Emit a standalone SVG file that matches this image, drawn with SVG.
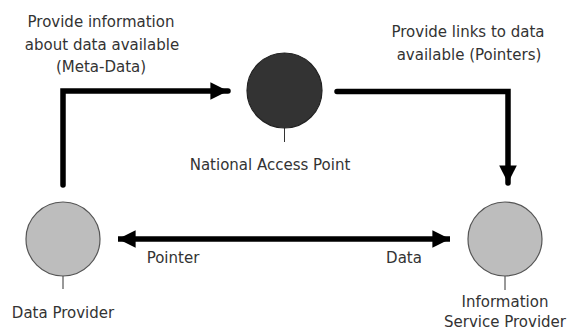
<svg xmlns="http://www.w3.org/2000/svg" width="571" height="331" viewBox="0 0 571 331">
<defs>
<style>
text{font-family:"DejaVu Sans",Verdana,sans-serif;font-size:15px;fill:#333;text-anchor:middle}
.conn{fill:none;stroke:#000;stroke-width:5.5;stroke-linejoin:miter}
.stem{stroke:#333;stroke-width:1}
.light{fill:#bdbdbd;stroke:#555;stroke-width:1.2}
.dark{fill:#333;stroke:#222;stroke-width:1.2}
</style>
<marker id="ah" viewBox="0 0 10 10" refX="10" refY="5" markerWidth="3.6" markerHeight="3.2" markerUnits="strokeWidth" orient="auto-start-reverse">
<path d="M0,0 L10,5 L0,10 z" fill="#000"/>
</marker>
</defs>
<rect width="571" height="331" fill="#fff"/>
<g id="connectors">
<path class="conn" d="M63,185 V91 H228" marker-end="url(#ah)" stroke-linecap="round"/>
<path class="conn" d="M337,91.5 H508 V183" marker-end="url(#ah)" stroke-linecap="round"/>
<path class="conn" d="M118,239 H450" marker-start="url(#ah)" marker-end="url(#ah)"/>
<text x="101" y="27">Provide information</text>
<text x="102" y="50">about data available</text>
<text x="101" y="72">(Meta-Data)</text>
<text x="468" y="37">Provide links to data</text>
<text x="469" y="60">available (Pointers)</text>
<text x="173" y="263">Pointer</text>
<text x="404" y="263">Data</text>
</g>
<g id="nap">
<line class="stem" x1="284.5" y1="128" x2="284.5" y2="142"/>
<circle class="dark" cx="284.5" cy="90.5" r="37.5"/>
<text x="270" y="170">National Access Point</text>
</g>
<g id="dp">
<line class="stem" x1="63" y1="276" x2="63" y2="289"/>
<circle class="light" cx="63" cy="239" r="37"/>
<text x="63" y="318">Data Provider</text>
</g>
<g id="isp">
<line class="stem" x1="505" y1="276" x2="505" y2="290"/>
<circle class="light" cx="505" cy="239" r="37"/>
<text x="505" y="307">Information</text>
<text x="505" y="327">Service Provider</text>
</g>
</svg>
